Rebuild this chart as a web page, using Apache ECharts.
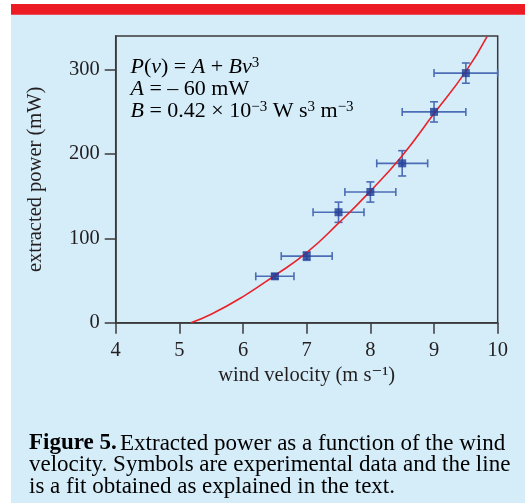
<!DOCTYPE html>
<html>
<head>
<meta charset="utf-8">
<script src="https://cdn.jsdelivr.net/npm/echarts@6.0.0/dist/echarts.min.js"></script>
<style>
html,body{margin:0;padding:0;background:#fff;}
#chart{width:525px;height:503px;}
</style>
</head>
<body>
<div id="chart"></div>
<script>
// Experimental data
const vel = [6.5, 7, 7.5, 8, 8.5, 9, 9.5];
const power = [55, 79, 131, 155, 189, 250, 296];
const velErr = [0.3, 0.4, 0.4, 0.4, 0.4, 0.5, 0.5];
const powErr = [3, 5, 12, 12, 15, 12, 12];
// Fit line
const fitV = [5.18, 5.5, 6, 6.5, 7, 7.5, 8, 8.5, 9, 9.5, 9.83];
const fitP = [0, 10, 31, 56, 83, 118, 156, 198, 248, 298, 339];
// Axis ticks
const xTicks = [4, 5, 6, 7, 8, 9, 10];
const yTicks = [0, 100, 200, 300];

const serif = '"Liberation Serif", "DejaVu Serif", serif';
const axisColor = '#3a3a3a';
const textColor = '#231f20';
const axisFont = 20.5;

const chart = echarts.init(document.getElementById('chart'), null, {renderer: 'canvas'});

const errData = vel.map((v, i) => [v, power[i], velErr[i], powErr[i]]);
const ptData = vel.map((v, i) => [v, power[i]]);
const fitData = fitV.map((v, i) => [v, fitP[i]]);

function renderErr(params, api) {
  const x = api.value(0), y = api.value(1), dx = api.value(2), dy = api.value(3);
  const pL = api.coord([x - dx, y]), pR = api.coord([x + dx, y]);
  const pT = api.coord([x, y + dy]), pB = api.coord([x, y - dy]);
  const c = 4;
  const st = {stroke: '#4b6db5', lineWidth: 1.6};
  const ln = (x1, y1, x2, y2) => ({type: 'line', shape: {x1, y1, x2, y2}, style: st});
  return {
    type: 'group',
    children: [
      ln(pL[0], pL[1], pR[0], pR[1]),
      ln(pL[0], pL[1] - c, pL[0], pL[1] + c),
      ln(pR[0], pR[1] - c, pR[0], pR[1] + c),
      ln(pT[0], pT[1], pB[0], pB[1]),
      ln(pT[0] - c, pT[1], pT[0] + c, pT[1]),
      ln(pB[0] - c, pB[1], pB[0] + c, pB[1])
    ]
  };
}

const formulaRich = {
  i: {fontFamily: serif, fontStyle: 'italic', fontSize: 22, color: textColor, lineHeight: 22},
  n: {fontFamily: serif, fontSize: 22, color: textColor, lineHeight: 22},
  sup: {fontFamily: serif, fontSize: 15, color: textColor, lineHeight: 8, verticalAlign: 'top'}
};

const option = {
  backgroundColor: '#d5ecf9',
  animation: false,
  grid: {
    left: 115.7, right: 27.3, top: 36, bottom: 180.3,
    show: true, borderColor: axisColor, borderWidth: 1.5, backgroundColor: 'transparent'
  },
  xAxis: {
    type: 'value', min: 4, max: 10, interval: 1,
    name: 'wind velocity (m s\u207B\u00B9)', nameLocation: 'middle', nameGap: 42,
    nameTextStyle: {fontFamily: serif, fontSize: axisFont, color: textColor},
    axisLine: {show: true, lineStyle: {color: axisColor, width: 1.5}},
    axisTick: {show: true, length: 11, inside: false, lineStyle: {color: axisColor, width: 1.5}},
    axisLabel: {fontFamily: serif, fontSize: axisFont, color: textColor, margin: 17,
      formatter: v => xTicks.indexOf(v) >= 0 ? String(v) : ''},
    splitLine: {show: false}
  },
  yAxis: {
    type: 'value', min: 0, max: 340, interval: 100,
    name: 'extracted power (mW)', nameLocation: 'middle', nameGap: 70, nameRotate: 90,
    nameTextStyle: {fontFamily: serif, fontSize: axisFont, color: textColor},
    axisLine: {show: true, lineStyle: {color: axisColor, width: 1.5}},
    axisTick: {show: true, length: 11, inside: false, customValues: yTicks, lineStyle: {color: axisColor, width: 1.5}},
    axisLabel: {fontFamily: serif, fontSize: axisFont, color: textColor, margin: 16, customValues: yTicks},
    splitLine: {show: false}
  },
  graphic: [
    {type: 'rect', shape: {x: 0, y: 0, width: 11, height: 503}, style: {fill: '#ffffff'}, silent: true},
    {type: 'rect', shape: {x: 0, y: 0, width: 525, height: 4}, style: {fill: '#ffffff'}, silent: true},
    {type: 'rect', shape: {x: 11, y: 4, width: 514, height: 10.7}, style: {fill: '#ed1c24'}, silent: true},
    {
      type: 'text', left: 130.5, top: 56,
      style: {
        text: '{i|P}{n|(}{i|v}{n|) = }{i|A}{n| + }{i|Bv}{sup|3}\n{i|A}{n| = \u2013 60 mW}\n{i|B}{n| = 0.42 \u00D7 10}{sup|\u22123}{n| W s}{sup|3}{n| m}{sup|\u22123}',
        rich: formulaRich
      }
    },
    {
      type: 'text', left: 29, top: 432,
      style: {
        text: '{b|Figure 5.} {n|Extracted power as a function of the wind}\n{n|velocity. Symbols are experimental data and the line}\n{n|is a fit obtained as explained in the text.}',
        rich: {
          b: {fontFamily: serif, fontWeight: 'bold', fontSize: 23, color: textColor, lineHeight: 21.7},
          n: {fontFamily: serif, fontSize: 23, color: textColor, lineHeight: 21.7}
        }
      }
    }
  ],
  series: [
    {
      type: 'line', data: fitData, smooth: true, showSymbol: false, symbol: 'none',
      lineStyle: {color: '#e8232a', width: 1.6}, z: 3, clip: true
    },
    {
      type: 'custom', data: errData, renderItem: renderErr, z: 2,
      encode: {x: 0, y: 1}
    },
    {
      type: 'scatter', data: ptData, symbol: 'rect', symbolSize: 8,
      itemStyle: {color: '#1e3c96'}, z: 4
    }
  ]
};
chart.setOption(option);
</script>
</body>
</html>
